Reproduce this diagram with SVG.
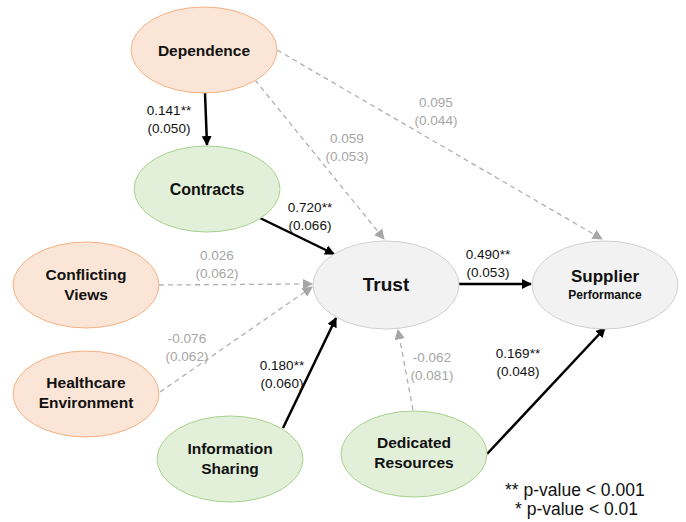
<svg xmlns="http://www.w3.org/2000/svg" width="686" height="522" viewBox="0 0 686 522">
<defs>
<style>
.orange{fill:#fbe5d6;stroke:#f4b183;stroke-width:1}
.green{fill:#e2f0d9;stroke:#a9d18e;stroke-width:1}
.grey{fill:#f2f2f2;stroke:#d0d0d0;stroke-width:1}
.nl{font-family:"Liberation Sans",Arial,sans-serif;font-weight:bold;font-size:15.5px;fill:#111;text-anchor:middle}
.el{font-family:"Liberation Sans",Arial,sans-serif;font-size:13.5px;fill:#111;text-anchor:middle}
.eg{font-family:"Liberation Sans",Arial,sans-serif;font-size:13.5px;fill:#a6a6a6;text-anchor:middle}
.solid{stroke:#000;stroke-width:2.5;fill:none;marker-end:url(#ab)}
.dash{stroke:#b0b0b0;stroke-width:1.3;stroke-dasharray:5,4;fill:none;marker-end:url(#ag)}
.leg{font-family:"Liberation Sans",Arial,sans-serif;font-size:17.5px;fill:#111}
</style>
<marker id="ab" viewBox="0 0 10 10" refX="9" refY="5" markerWidth="4" markerHeight="4" orient="auto" markerUnits="strokeWidth">
<path d="M0,0 L10,5 L0,10 z" fill="#000"/>
</marker>
<marker id="ag" viewBox="0 0 10 10" refX="9" refY="5" markerWidth="8" markerHeight="8" orient="auto" markerUnits="strokeWidth">
<path d="M0,0 L10,5 L0,10 z" fill="#a6a6a6"/>
</marker>
</defs>
<rect width="686" height="522" fill="#fff"/>
<g id="connectors">
<line class="solid" x1="205" y1="93" x2="207" y2="145"/>
<line class="dash" x1="255" y1="80" x2="384" y2="239"/>
<line class="dash" x1="277" y1="50" x2="602" y2="239"/>
<line class="solid" x1="260" y1="218" x2="334" y2="254"/>
<line class="dash" x1="159" y1="285" x2="312" y2="284"/>
<line class="dash" x1="160" y1="392" x2="312" y2="287"/>
<line class="solid" x1="283" y1="428" x2="336" y2="318"/>
<line class="solid" x1="459" y1="284" x2="531" y2="284"/>
<line class="dash" x1="413" y1="410" x2="398" y2="330"/>
<line class="solid" x1="487" y1="454" x2="605" y2="328"/>
</g>
<g id="edge-labels">
<text class="el" x="169" y="115">0.141**</text><text class="el" x="169" y="133">(0.050)</text>
<text class="el" x="310" y="212">0.720**</text><text class="el" x="310" y="230">(0.066)</text>
<text class="eg" x="347" y="143">0.059</text><text class="eg" x="347" y="161">(0.053)</text>
<text class="eg" x="436" y="107">0.095</text><text class="eg" x="436" y="125">(0.044)</text>
<text class="el" x="488" y="259">0.490**</text><text class="el" x="488" y="277">(0.053)</text>
<text class="eg" x="217" y="260">0.026</text><text class="eg" x="217" y="278">(0.062)</text>
<text class="eg" x="187" y="343">-0.076</text><text class="eg" x="187" y="361">(0.062)</text>
<text class="el" x="282" y="370">0.180**</text><text class="el" x="282" y="388">(0.060)</text>
<text class="eg" x="432" y="362">-0.062</text><text class="eg" x="432" y="380">(0.081)</text>
<text class="el" x="518" y="358">0.169**</text><text class="el" x="518" y="376">(0.048)</text>
</g>
<g id="dependence"><ellipse class="orange" cx="204" cy="50" rx="73" ry="43"/><text class="nl" x="204" y="56">Dependence</text></g>
<g id="contracts"><ellipse class="green" cx="207" cy="189" rx="73" ry="43"/><text class="nl" x="207" y="195" style="font-size:16px">Contracts</text></g>
<g id="trust"><ellipse class="grey" cx="386" cy="285" rx="73" ry="44"/><text class="nl" x="386" y="291" style="font-size:19px">Trust</text></g>
<g id="supplier-performance"><ellipse class="grey" cx="605" cy="285" rx="73" ry="44"/><text class="nl" x="605" y="282" style="font-size:17px">Supplier</text><text class="nl" x="605" y="299" style="font-size:12px">Performance</text></g>
<g id="conflicting-views"><ellipse class="orange" cx="86" cy="285" rx="73" ry="43"/><text class="nl" x="86" y="280">Conflicting</text><text class="nl" x="86" y="300">Views</text></g>
<g id="healthcare-environment"><ellipse class="orange" cx="86" cy="394" rx="73" ry="43"/><text class="nl" x="86" y="388">Healthcare</text><text class="nl" x="86" y="408">Environment</text></g>
<g id="information-sharing"><ellipse class="green" cx="230" cy="459" rx="73" ry="43"/><text class="nl" x="230" y="454">Information</text><text class="nl" x="230" y="474">Sharing</text></g>
<g id="dedicated-resources"><ellipse class="green" cx="414" cy="454" rx="73" ry="43"/><text class="nl" x="414" y="448">Dedicated</text><text class="nl" x="414" y="468">Resources</text></g>
<g id="legend">
<text class="leg" x="505" y="496">** p-value &lt; 0.001</text>
<text class="leg" x="515" y="515">* p-value &lt; 0.01</text>
</g>
</svg>
